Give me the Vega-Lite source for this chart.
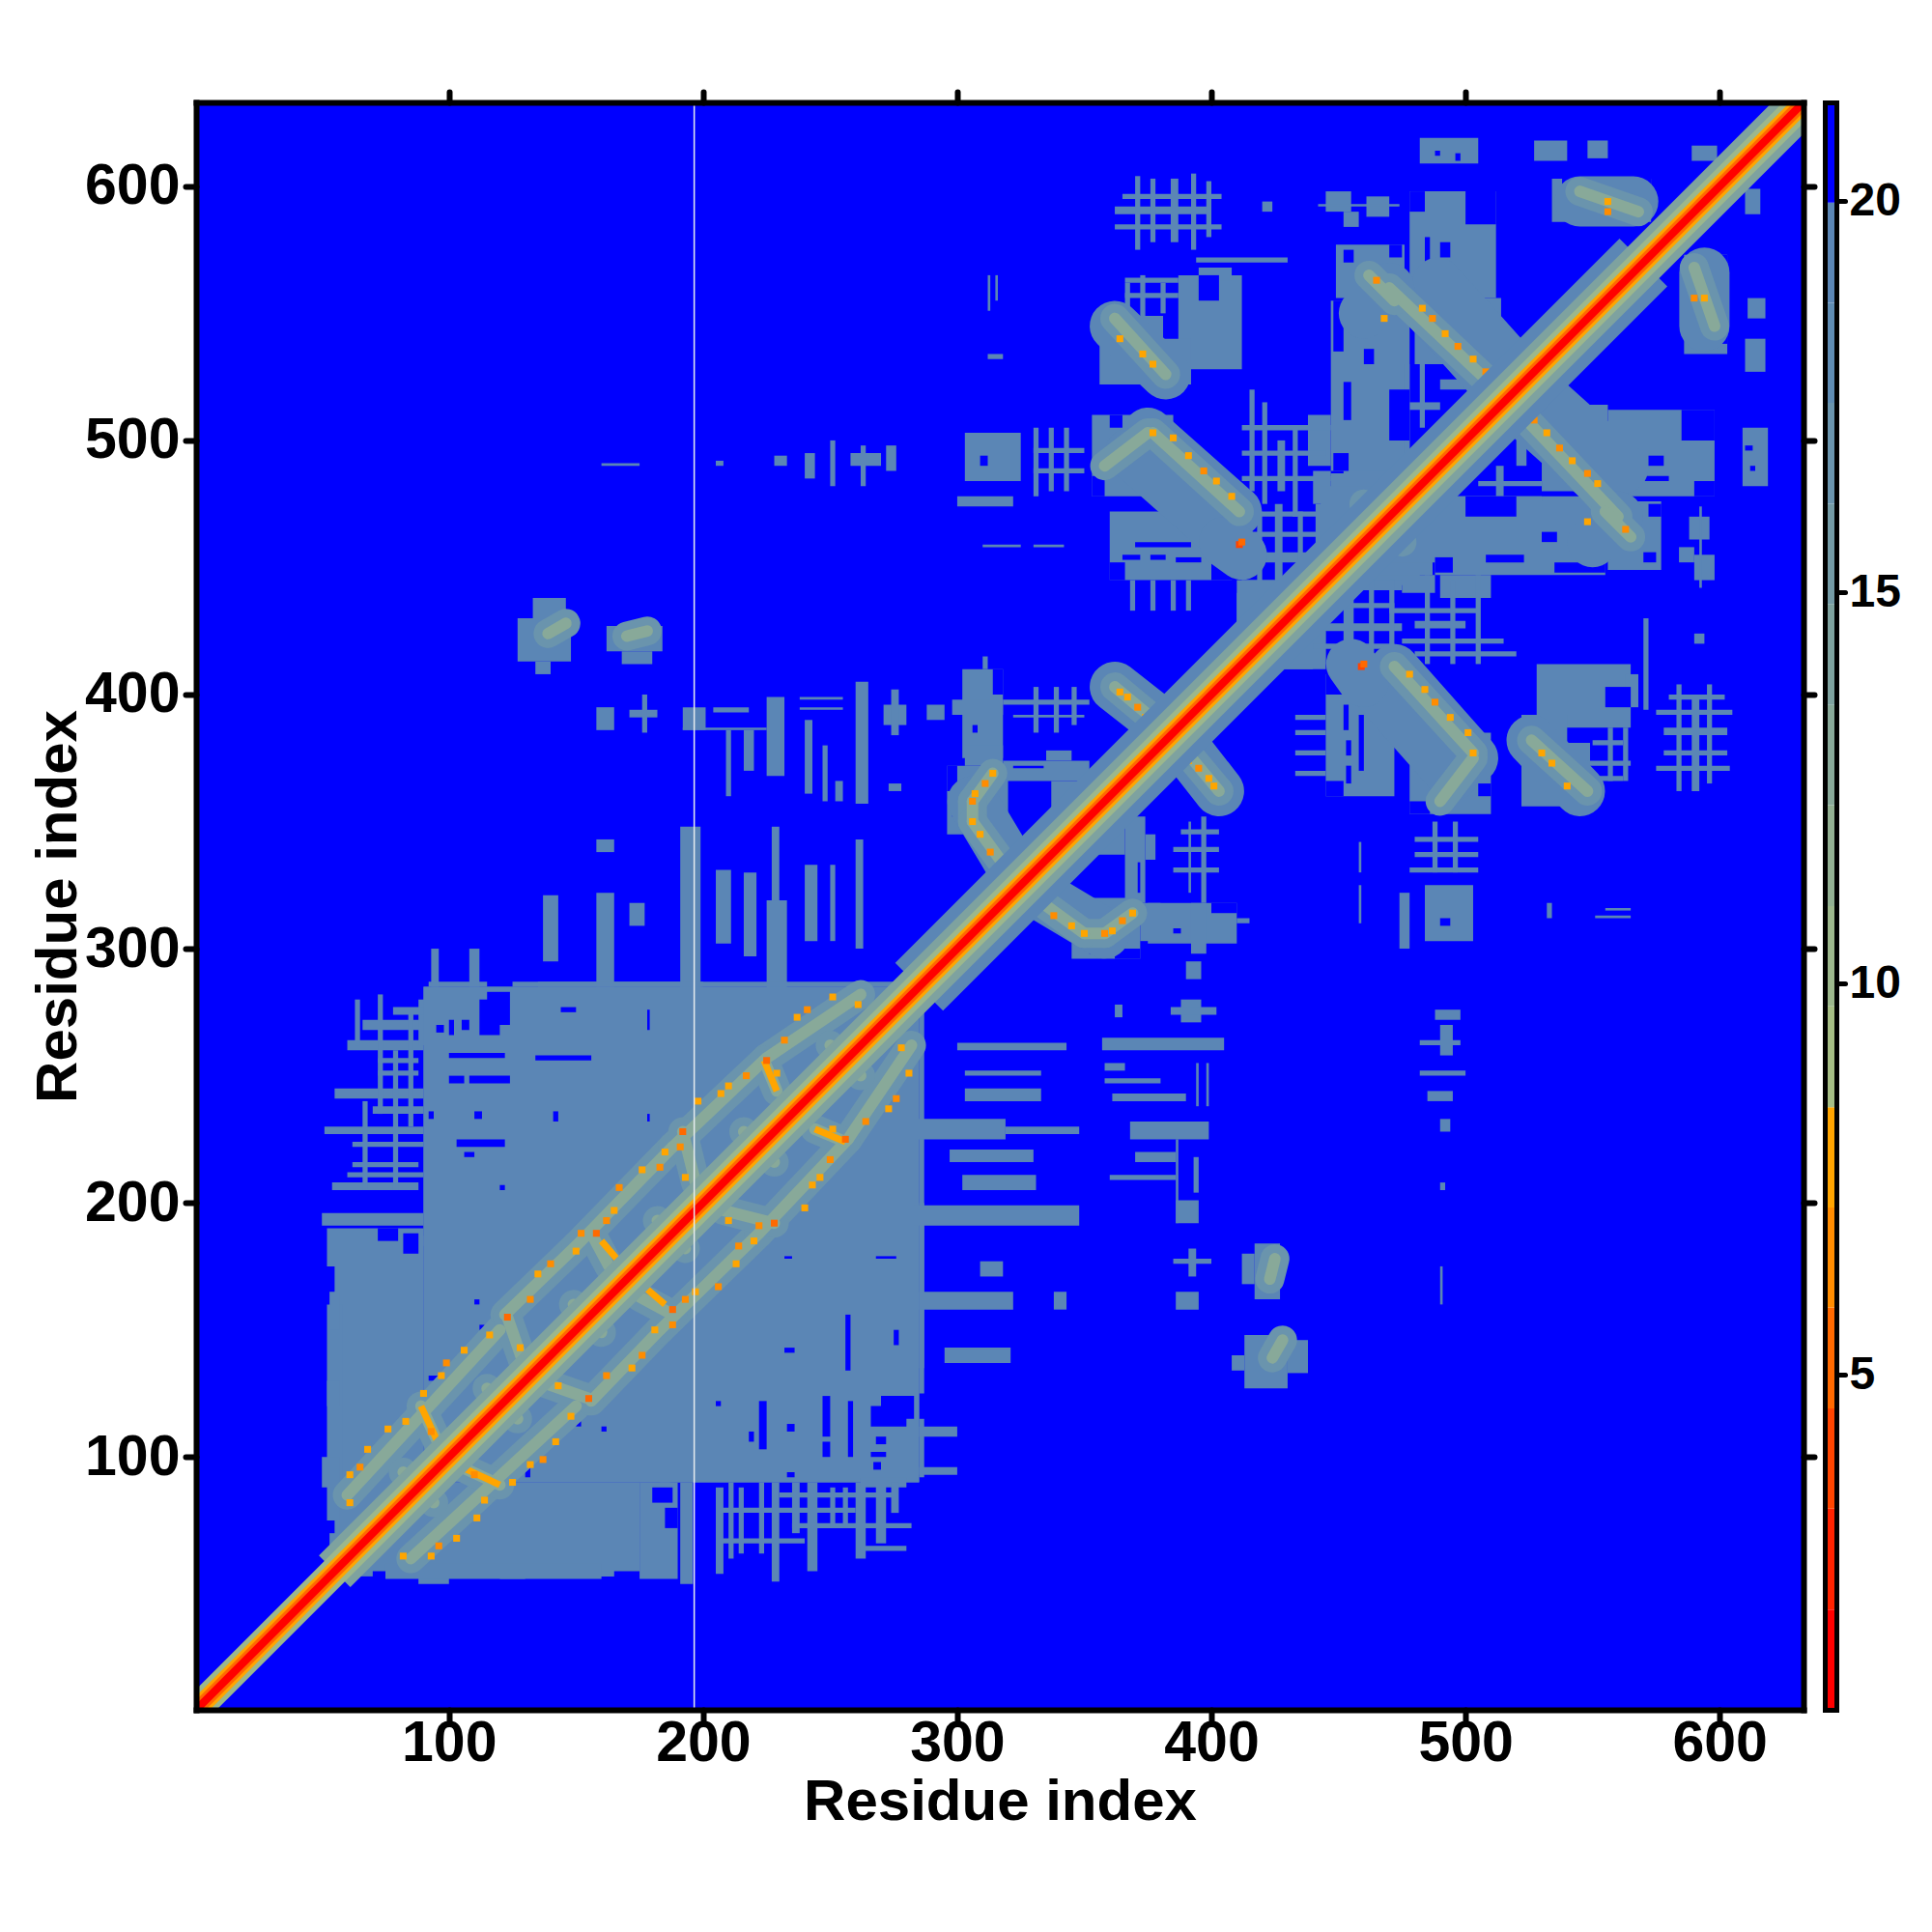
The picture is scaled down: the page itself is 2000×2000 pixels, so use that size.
{"$schema":"https://vega.github.io/schema/vega-lite/v6.json","background":"white","padding":{"left":30,"top":92,"right":0,"bottom":0},"config":{"view":{"stroke":null},"legend":{"disable":true},"font":"Liberation Sans","axis":{"grid":false,"domainColor":"black","domainWidth":6,"domainCap":"square","tickColor":"black","tickWidth":6,"tickCap":"round","tickSize":11,"labelColor":"black","labelFont":"Liberation Sans","labelFontWeight":"bold","labelFontSize":59,"titleFont":"Liberation Sans","titleFontWeight":"bold","titleFontSize":60,"titleColor":"black"}},
"datasets":{
"bg":[{"x":0.5,"x2":633,"y":0.5,"y2":633}],
"steel":[
{"x":90,"x2":285,"y":90,"y2":285},{"x":55,"x2":90,"y":57,"y2":175},{"x":52,"x2":58,"y":75,"y2":160},{"x":60,"x2":70,"y":53,"y2":57},{"x":88,"x2":100,"y":50,"y2":57},{"x":120,"x2":130,"y":52,"y2":57},{"x":150,"x2":165,"y":53,"y2":57},{"x":285,"x2":287,"y":125,"y2":285},{"x":92,"x2":115,"y":285,"y2":287},{"x":135,"x2":200,"y":285,"y2":287},
{"x":60,"x2":90,"y":260,"y2":264},{"x":55,"x2":90,"y":241,"y2":245},{"x":51,"x2":90,"y":227,"y2":230},{"x":54,"x2":88,"y":205,"y2":208},{"x":50,"x2":90,"y":191,"y2":196},{"x":57,"x2":90,"y":183,"y2":187},{"x":72,"x2":74,"y":235,"y2":282},{"x":62,"x2":90,"y":222,"y2":224},{"x":62,"x2":88,"y":214,"y2":216},{"x":72,"x2":88,"y":250,"y2":252},{"x":72,"x2":88,"y":255,"y2":257},{"x":70,"x2":90,"y":235,"y2":238},{"x":66,"x2":90,"y":268,"y2":272},{"x":60,"x2":90,"y":210,"y2":212},{"x":78,"x2":80,"y":205,"y2":260},{"x":84,"x2":86,"y":230,"y2":275},{"x":66,"x2":68,"y":205,"y2":240},{"x":88,"x2":92,"y":262,"y2":280},{"x":63,"x2":65,"y":262,"y2":280},{"x":78,"x2":90,"y":274,"y2":277},{"x":52,"x2":90,"y":175,"y2":190},
{"x":137,"x2":143,"y":295,"y2":321},{"x":158,"x2":165,"y":285,"y2":322},{"x":171,"x2":177,"y":309,"y2":318},{"x":191,"x2":199,"y":283,"y2":348},{"x":205,"x2":211,"y":302,"y2":331},{"x":216,"x2":221,"y":297,"y2":330},{"x":225,"x2":233,"y":283,"y2":319},{"x":227,"x2":230,"y":319,"y2":348},{"x":240,"x2":245,"y":303,"y2":333},{"x":250,"x2":252,"y":303,"y2":333},{"x":260,"x2":263,"y":300,"y2":343},{"x":158,"x2":165,"y":338,"y2":343},{"x":93,"x2":96,"y":285,"y2":300},{"x":108,"x2":112,"y":285,"y2":300},
{"x":158,"x2":165,"y":386,"y2":395},{"x":171,"x2":182,"y":391,"y2":394},{"x":176,"x2":178,"y":385,"y2":400},{"x":192,"x2":201,"y":386,"y2":395},{"x":204,"x2":218,"y":393,"y2":395},{"x":192,"x2":225,"y":386,"y2":387},{"x":225,"x2":232,"y":368,"y2":399},{"x":209,"x2":211,"y":360,"y2":386},{"x":216,"x2":220,"y":370,"y2":386},{"x":238,"x2":255,"y":398,"y2":399},{"x":238,"x2":255,"y":394,"y2":395},{"x":240,"x2":243,"y":361,"y2":390},{"x":252,"x2":255,"y":358,"y2":366},{"x":247,"x2":249,"y":358,"y2":380},{"x":260,"x2":265,"y":357,"y2":405},{"x":271,"x2":280,"y":388,"y2":396},{"x":274,"x2":277,"y":384,"y2":402},{"x":273,"x2":278,"y":362,"y2":365},{"x":288,"x2":295,"y":390,"y2":396},
{"x":302,"x2":318,"y":375,"y2":410},{"x":298,"x2":318,"y":392,"y2":398},{"x":310,"x2":312,"y":410,"y2":415},{"x":318,"x2":352,"y":396,"y2":398},{"x":322,"x2":350,"y":391,"y2":392},{"x":330,"x2":332,"y":385,"y2":403},{"x":338,"x2":340,"y":385,"y2":403},{"x":345,"x2":347,"y":388,"y2":403},
{"x":127,"x2":148,"y":413,"y2":430},{"x":133,"x2":146,"y":430,"y2":438},{"x":134,"x2":140,"y":408,"y2":413},{"x":162,"x2":184,"y":417,"y2":427},{"x":168,"x2":180,"y":412,"y2":417},
{"x":296,"x2":320,"y":345,"y2":372},{"x":303,"x2":318,"y":372,"y2":380},{"x":318,"x2":352,"y":366,"y2":374},{"x":337,"x2":352,"y":345,"y2":366},{"x":335,"x2":345,"y":374,"y2":378},
{"x":410,"x2":445,"y":410,"y2":440},{"x":412,"x2":425,"y":432,"y2":445},
{"x":447,"x2":487,"y":447,"y2":487},{"x":452,"x2":482,"y":443,"y2":491},{"x":447,"x2":478,"y":488,"y2":555},{"x":478,"x2":512,"y":556,"y2":598},{"x":480,"x2":514,"y":530,"y2":556},{"x":470,"x2":478,"y":550,"y2":562},{"x":449,"x2":476,"y":556,"y2":577},
{"x":476,"x2":478,"y":495,"y2":530},{"x":482,"x2":484,"y":505,"y2":530},{"x":490,"x2":500,"y":520,"y2":524},{"x":478,"x2":490,"y":512,"y2":515},
{"x":415,"x2":417,"y":480,"y2":520},{"x":420,"x2":422,"y":475,"y2":515},{"x":426,"x2":429,"y":480,"y2":500},{"x":432,"x2":434,"y":470,"y2":505},{"x":438,"x2":447,"y":490,"y2":510},{"x":440,"x2":447,"y":475,"y2":488},{"x":412,"x2":445,"y":494,"y2":496},{"x":412,"x2":449,"y":452,"y2":456},{"x":418,"x2":420,"y":440,"y2":472},{"x":425,"x2":428,"y":440,"y2":475},{"x":434,"x2":436,"y":445,"y2":472},{"x":441,"x2":445,"y":445,"y2":475},{"x":412,"x2":445,"y":462,"y2":464},{"x":412,"x2":445,"y":470,"y2":472},{"x":412,"x2":447,"y":504,"y2":506},{"x":412,"x2":447,"y":484,"y2":486},
{"x":353,"x2":385,"y":478,"y2":510},{"x":360,"x2":408,"y":445,"y2":472},{"x":368,"x2":370,"y":433,"y2":445},{"x":376,"x2":378,"y":433,"y2":445},{"x":384,"x2":386,"y":433,"y2":445},{"x":390,"x2":392,"y":433,"y2":445},
{"x":387,"x2":412,"y":528,"y2":565},{"x":356,"x2":381,"y":522,"y2":549},{"x":378,"x2":392,"y":522,"y2":540},{"x":366,"x2":368,"y":550,"y2":562},{"x":372,"x2":374,"y":548,"y2":565},{"x":380,"x2":382,"y":550,"y2":562},{"x":366,"x2":387,"y":556,"y2":558},{"x":366,"x2":387,"y":562,"y2":564},{"x":395,"x2":408,"y":563,"y2":568},
{"x":362,"x2":400,"y":589,"y2":592},{"x":362,"x2":404,"y":583,"y2":585},{"x":365,"x2":404,"y":595,"y2":597},{"x":370,"x2":372,"y":575,"y2":604},{"x":376,"x2":378,"y":578,"y2":603},{"x":384,"x2":387,"y":578,"y2":603},{"x":392,"x2":394,"y":575,"y2":605},{"x":398,"x2":400,"y":580,"y2":602},
{"x":445,"x2":455,"y":590,"y2":598},{"x":452,"x2":458,"y":584,"y2":590},{"x":461,"x2":470,"y":588,"y2":596},{"x":442,"x2":474,"y":592,"y2":593},{"x":420,"x2":424,"y":590,"y2":594},{"x":394,"x2":430,"y":570,"y2":572},
{"x":482,"x2":505,"y":609,"y2":619},{"x":527,"x2":540,"y":610,"y2":618},{"x":548,"x2":556,"y":611,"y2":618},{"x":589,"x2":599,"y":610,"y2":616},{"x":534,"x2":573,"y":586,"y2":603},
{"x":303,"x2":325,"y":484,"y2":503},{"x":330,"x2":332,"y":478,"y2":505},{"x":336,"x2":338,"y":480,"y2":505},{"x":342,"x2":344,"y":480,"y2":505},{"x":330,"x2":350,"y":487,"y2":489},{"x":330,"x2":350,"y":495,"y2":497},{"x":300,"x2":322,"y":474,"y2":478},{"x":310,"x2":325,"y":458,"y2":459},{"x":330,"x2":342,"y":458,"y2":459},{"x":312,"x2":313,"y":551,"y2":565},{"x":315,"x2":316,"y":555,"y2":565},{"x":312,"x2":318,"y":532,"y2":534},
{"x":240,"x2":244,"y":485,"y2":495},{"x":250,"x2":252,"y":482,"y2":500},{"x":258,"x2":270,"y":490,"y2":495},{"x":262,"x2":264,"y":482,"y2":498},{"x":272,"x2":276,"y":488,"y2":498},{"x":228,"x2":233,"y":490,"y2":494},{"x":205,"x2":208,"y":490,"y2":492},{"x":160,"x2":175,"y":490,"y2":491}],
"holes":[
{"x":95,"x2":98,"y":267,"y2":270},{"x":100,"x2":102,"y":266,"y2":272},{"x":105,"x2":108,"y":268,"y2":272},{"x":112,"x2":120,"y":266,"y2":280},{"x":115,"x2":124,"y":270,"y2":283},{"x":100,"x2":122,"y":257,"y2":259},{"x":108,"x2":124,"y":247,"y2":250},{"x":100,"x2":106,"y":247,"y2":250},{"x":103,"x2":122,"y":222,"y2":225},{"x":110,"x2":113,"y":233,"y2":236},{"x":106,"x2":110,"y":218,"y2":220},{"x":134,"x2":156,"y":256,"y2":258},{"x":144,"x2":150,"y":275,"y2":277},{"x":178,"x2":179,"y":268,"y2":276},{"x":120,"x2":122,"y":205,"y2":207},{"x":141,"x2":143,"y":232,"y2":236},{"x":178,"x2":179,"y":232,"y2":235},{"x":92,"x2":94,"y":233,"y2":236},{"x":110,"x2":112,"y":160,"y2":162},{"x":72,"x2":80,"y":185,"y2":190},{"x":82,"x2":88,"y":180,"y2":188},{"x":92,"x2":96,"y":130,"y2":132},{"x":112,"x2":114,"y":150,"y2":152},
{"x":340,"x2":343,"y":352,"y2":356},{"x":345,"x2":348,"y":358,"y2":361},{"x":340,"x2":350,"y":348,"y2":349},{"x":322,"x2":334,"y":371,"y2":372},{"x":298,"x2":302,"y":352,"y2":356},{"x":296,"x2":300,"y":362,"y2":372},{"x":349,"x2":352,"y":362,"y2":366},
{"x":396,"x2":410,"y":467,"y2":470},{"x":365,"x2":372,"y":453,"y2":455},{"x":376,"x2":382,"y":453,"y2":455},{"x":386,"x2":396,"y":452,"y2":454},{"x":370,"x2":392,"y":458,"y2":460},{"x":375,"x2":387,"y":478,"y2":484},{"x":360,"x2":366,"y":445,"y2":452},{"x":400,"x2":408,"y":445,"y2":452},
{"x":452,"x2":455,"y":508,"y2":523},{"x":484,"x2":486,"y":570,"y2":580},{"x":490,"x2":494,"y":572,"y2":578},{"x":470,"x2":475,"y":572,"y2":577},{"x":452,"x2":456,"y":570,"y2":575},{"x":500,"x2":512,"y":585,"y2":598},{"x":478,"x2":484,"y":590,"y2":598},{"x":448,"x2":452,"y":535,"y2":555},{"x":460,"x2":464,"y":530,"y2":536},{"x":470,"x2":478,"y":500,"y2":520},{"x":448,"x2":454,"y":488,"y2":495},
{"x":309,"x2":312,"y":490,"y2":494},{"x":395,"x2":403,"y":555,"y2":565},{"x":356,"x2":360,"y":540,"y2":549},{"x":360,"x2":365,"y":505,"y2":510},{"x":353,"x2":358,"y":478,"y2":486},{"x":306,"x2":308,"y":385,"y2":388},{"x":314,"x2":318,"y":400,"y2":410},{"x":538,"x2":545,"y":598,"y2":603},{"x":565,"x2":573,"y":596,"y2":603},{"x":488,"x2":490,"y":612,"y2":614},{"x":496,"x2":498,"y":610,"y2":613}],
"wide":[{"x":306,"y":358,"x2":324,"y2":328},{"x":362,"y":403,"x2":385,"y2":385},{"x":375,"y":503,"x2":410,"y2":472},{"x":368,"y":495,"x2":403,"y2":464},{"x":362,"y":545,"x2":382,"y2":526},{"x":482,"y":555,"x2":508,"y2":526},{"x":489,"y":562,"x2":515,"y2":533},{"x":545,"y":594,"x2":566,"y2":594},{"x":405,"y":460,"x2":412,"y2":455},{"x":460,"y":550,"x2":470,"y2":560}],
"halo":[{"x":60,"y":85,"x2":120,"y2":150},{"x":122,"y":156,"x2":150,"y2":183},{"x":150,"y":183,"x2":188,"y2":222},{"x":188,"y":222,"x2":225,"y2":257},{"x":225,"y":257,"x2":262,"y2":282},{"x":82,"y":94,"x2":88,"y2":88},{"x":115,"y":127,"x2":121,"y2":121},{"x":149,"y":160,"x2":155,"y2":155},{"x":182,"y":193,"x2":188,"y2":188},{"x":216,"y":228,"x2":222,"y2":222},{"x":250,"y":262,"x2":256,"y2":256},{"x":89,"y":120,"x2":96,"y2":105},{"x":123,"y":155,"x2":130,"y2":135},{"x":156,"y":188,"x2":163,"y2":175},{"x":192,"y":228,"x2":197,"y2":208},{"x":224,"y":256,"x2":229,"y2":244},{"x":314,"y":369,"x2":306,"y2":358},{"x":306,"y":358,"x2":306,"y2":350},{"x":306,"y":350,"x2":322,"y2":328},{"x":362,"y":403,"x2":380,"y2":388},{"x":377,"y":503,"x2":411,"y2":472},{"x":358,"y":490,"x2":375,"y2":503},{"x":362,"y":548,"x2":382,"y2":526},{"x":470,"y":560,"x2":508,"y2":524},{"x":545,"y":598,"x2":568,"y2":590},{"x":460,"y":475,"x2":470,"y2":470},{"x":139,"y":424,"x2":146,"y2":428},{"x":170,"y":423,"x2":178,"y2":425},{"x":462,"y":565,"x2":472,"y2":555}],
"arms":[{"x":82,"y":94,"x2":88,"y2":88,"d":6.48},{"x":115,"y":127,"x2":121,"y2":121,"d":6.48},{"x":149,"y":160,"x2":155,"y2":155,"d":6.48},{"x":182,"y":193,"x2":188,"y2":188,"d":6.48},{"x":216,"y":228,"x2":222,"y2":222,"d":6.48},{"x":250,"y":262,"x2":256,"y2":256,"d":6.48},{"x":89,"y":120,"x2":96,"y2":105,"d":7.76},{"x":160,"y":185,"x2":166,"y2":178,"d":7.76},{"x":224,"y":256,"x2":229,"y2":244,"d":7.76},{"x":460,"y":475,"x2":466,"y2":474,"d":6.48},{"x":466,"y":474,"x2":470,"y2":468,"d":6.48},{"x":449,"y":460,"x2":455,"y2":455,"d":6.48},{"x":437,"y":447,"x2":442,"y2":442,"d":6.48},{"x":521,"y":533,"x2":527,"y2":527,"d":6.48},{"x":552,"y":563,"x2":558,"y2":558,"d":6.48},{"x":413,"y":421,"x2":417,"y2":417,"d":6.48}],
"dots":[{"x":61,"y":82,"d":7.76},{"x":61,"y":93,"d":7.76},{"x":65,"y":96,"d":6.48},{"x":68,"y":103,"d":7.76},{"x":76,"y":111,"d":7.76},{"x":83,"y":114,"d":7.76},{"x":90,"y":125,"d":7.76},{"x":93,"y":110,"d":6.48},{"x":97,"y":132,"d":7.76},{"x":99,"y":137,"d":6.48},{"x":106,"y":142,"d":7.76},{"x":116,"y":148,"d":7.76},{"x":123,"y":155,"d":5.2},{"x":128,"y":143,"d":7.76},{"x":130,"y":135,"d":7.76},{"x":132,"y":162,"d":6.48},{"x":135,"y":172,"d":7.76},{"x":140,"y":176,"d":6.48},{"x":150,"y":181,"d":7.76},{"x":152,"y":188,"d":6.48},{"x":158,"y":188,"d":5.2},{"x":162,"y":193,"d":6.48},{"x":165,"y":197,"d":7.76},{"x":167,"y":206,"d":6.48},{"x":176,"y":213,"d":7.76},{"x":183,"y":214,"d":6.48},{"x":185,"y":220,"d":7.76},{"x":191,"y":222,"d":6.48},{"x":192,"y":228,"d":5.2},{"x":193,"y":210,"d":7.76},{"x":197,"y":206,"d":6.48},{"x":198,"y":240,"d":7.76},{"x":207,"y":243,"d":7.76},{"x":210,"y":246,"d":7.76},{"x":217,"y":250,"d":6.48},{"x":225,"y":256,"d":5.2},{"x":229,"y":251,"d":7.76},{"x":232,"y":264,"d":6.48},{"x":237,"y":273,"d":7.76},{"x":241,"y":276,"d":6.48},{"x":251,"y":281,"d":7.76},{"x":261,"y":278,"d":7.76},{"x":265,"y":271,"d":7.76},{"x":314,"y":369,"d":7.76},{"x":311,"y":365,"d":6.48},{"x":307,"y":361,"d":7.76},{"x":306,"y":358,"d":6.48},{"x":306,"y":350,"d":7.76},{"x":309,"y":345,"d":7.76},{"x":313,"y":338,"d":6.48},{"x":320,"y":334,"d":7.76},{"x":322,"y":328,"d":7.76},{"x":364,"y":401,"d":7.76},{"x":367,"y":399,"d":7.76},{"x":371,"y":395,"d":6.48},{"x":374,"y":391,"d":7.76},{"x":377,"y":388,"d":7.76},{"x":377,"y":503,"d":7.76},{"x":385,"y":501,"d":7.76},{"x":391,"y":494,"d":7.76},{"x":397,"y":488,"d":6.48},{"x":402,"y":484,"d":7.76},{"x":408,"y":478,"d":7.76},{"x":411,"y":459,"d":3.92},{"x":412,"y":460,"d":5.2},{"x":364,"y":540,"d":7.76},{"x":373,"y":534,"d":7.76},{"x":377,"y":530,"d":7.76},{"x":483,"y":552,"d":7.76},{"x":487,"y":548,"d":6.48},{"x":492,"y":542,"d":7.76},{"x":497,"y":537,"d":6.48},{"x":503,"y":532,"d":7.76},{"x":508,"y":527,"d":6.48},{"x":556,"y":594,"d":7.76},{"x":556,"y":590,"d":6.48},{"x":465,"y":563,"d":6.48},{"x":468,"y":548,"d":7.76}],
"diag":[{"x":285,"y":285,"x2":570,"y2":570,"d":19.28},{"x":55,"y":55,"x2":633,"y2":633,"d":14.2},{"x":1,"y":1,"x2":633,"y2":633,"d":10.35},{"x":1,"y":1,"x2":633,"y2":633,"d":7.78},{"x":1,"y":1,"x2":633,"y2":633,"d":5.22},{"x":1,"y":1,"x2":633,"y2":633,"d":1.36}],
"gap":[{"x":196.5}],
"bar":[{"lo":0.72,"hi":2,"d":1.36},{"lo":2,"hi":3.29,"d":2.65},{"lo":3.29,"hi":4.57,"d":3.93},{"lo":4.57,"hi":5.86,"d":5.22},{"lo":5.86,"hi":7.14,"d":6.5},{"lo":7.14,"hi":8.42,"d":7.78},{"lo":8.42,"hi":9.71,"d":9.07},{"lo":9.71,"hi":10.99,"d":10.35},{"lo":10.99,"hi":12.28,"d":11.63},{"lo":12.28,"hi":13.56,"d":12.92},{"lo":13.56,"hi":14.85,"d":14.2},{"lo":14.85,"hi":16.13,"d":15.49},{"lo":16.13,"hi":17.42,"d":16.77},{"lo":17.42,"hi":18.7,"d":18.06},{"lo":18.7,"hi":19.98,"d":19.34},{"lo":19.98,"hi":21.26,"d":20.62}],
"barframe":[{"lo":0.72,"hi":21.26,"p":0,"q":1}]
},
"spacing":8,
"hconcat":[
{"width":1664,"height":1664,"resolve":{"axis":{"x":"independent","y":"independent"},"scale":{"color":"shared"}},
"layer":[
{"data":{"name":"bg"},"mark":{"type":"rect","clip":true,"color":"#0000FF"},"encoding":{"x":{"field":"x","type":"quantitative","scale":{"domain":[0.5,633],"nice":false,"zero":false},"axis":{"orient":"bottom","zindex":1,"values":[100,200,300,400,500,600],"title":"Residue index","labelPadding":-6,"titlePadding":2}},"x2":{"field":"x2"},"y":{"field":"y","type":"quantitative","scale":{"domain":[0.5,633],"nice":false,"zero":false},"axis":{"orient":"left","zindex":1,"values":[100,200,300,400,500,600],"title":"Residue index","labelPadding":6,"titlePadding":-4}},"y2":{"field":"y2"}}},
{"data":{"name":"steel"},"mark":{"type":"rect","clip":true,"color":"#5B86B5"},"encoding":{"x":{"field":"x","type":"quantitative","axis":null},"x2":{"field":"x2"},"y":{"field":"y","type":"quantitative","axis":null},"y2":{"field":"y2"}}},
{"data":{"name":"steel"},"mark":{"type":"rect","clip":true,"color":"#5B86B5"},"encoding":{"x":{"field":"y","type":"quantitative","axis":null},"x2":{"field":"y2"},"y":{"field":"x","type":"quantitative","axis":null},"y2":{"field":"x2"}}},
{"data":{"name":"holes"},"mark":{"type":"rect","clip":true,"color":"#0000FF"},"encoding":{"x":{"field":"x","type":"quantitative","axis":null},"x2":{"field":"x2"},"y":{"field":"y","type":"quantitative","axis":null},"y2":{"field":"y2"}}},
{"data":{"name":"holes"},"mark":{"type":"rect","clip":true,"color":"#0000FF"},"encoding":{"x":{"field":"y","type":"quantitative","axis":null},"x2":{"field":"y2"},"y":{"field":"x","type":"quantitative","axis":null},"y2":{"field":"x2"}}},
{"data":{"name":"wide"},"mark":{"type":"rule","clip":true,"strokeWidth":52,"strokeCap":"round","color":"#5B86B5"},"encoding":{"x":{"field":"x","type":"quantitative","axis":null},"x2":{"field":"x2"},"y":{"field":"y","type":"quantitative","axis":null},"y2":{"field":"y2"}}},
{"data":{"name":"wide"},"mark":{"type":"rule","clip":true,"strokeWidth":52,"strokeCap":"round","color":"#5B86B5"},"encoding":{"x":{"field":"y","type":"quantitative","axis":null},"x2":{"field":"y2"},"y":{"field":"x","type":"quantitative","axis":null},"y2":{"field":"x2"}}},
{"data":{"name":"halo"},"mark":{"type":"rule","clip":true,"strokeWidth":30,"strokeCap":"round","color":"#6A94AD"},"encoding":{"x":{"field":"x","type":"quantitative","axis":null},"x2":{"field":"x2"},"y":{"field":"y","type":"quantitative","axis":null},"y2":{"field":"y2"}}},
{"data":{"name":"halo"},"mark":{"type":"rule","clip":true,"strokeWidth":30,"strokeCap":"round","color":"#6A94AD"},"encoding":{"x":{"field":"y","type":"quantitative","axis":null},"x2":{"field":"y2"},"y":{"field":"x","type":"quantitative","axis":null},"y2":{"field":"x2"}}},
{"data":{"name":"halo"},"mark":{"type":"rule","clip":true,"strokeWidth":12,"strokeCap":"round","color":"#88A999"},"encoding":{"x":{"field":"x","type":"quantitative","axis":null},"x2":{"field":"x2"},"y":{"field":"y","type":"quantitative","axis":null},"y2":{"field":"y2"}}},
{"data":{"name":"halo"},"mark":{"type":"rule","clip":true,"strokeWidth":12,"strokeCap":"round","color":"#88A999"},"encoding":{"x":{"field":"y","type":"quantitative","axis":null},"x2":{"field":"y2"},"y":{"field":"x","type":"quantitative","axis":null},"y2":{"field":"x2"}}},
{"data":{"name":"arms"},"mark":{"type":"rule","clip":true,"strokeWidth":7},"encoding":{"x":{"field":"x","type":"quantitative","axis":null},"x2":{"field":"x2"},"y":{"field":"y","type":"quantitative","axis":null},"y2":{"field":"y2"},"color":{"field":"d","type":"quantitative","scale":{"type":"threshold","domain":[2,3.29,4.57,5.86,7.14,8.42,9.71,10.99,12.28,13.56,14.85,16.13,17.42,18.7,19.98],"range":["#FF0000","#FF2300","#FF4500","#FF6900","#FF8C00","#FFA500","#A6BE85","#9CB78C","#92B092","#88A999","#7EA29F","#749BA6","#6A94AD","#5F8CB3","#5B86B5","#0000FF"]}}}},
{"data":{"name":"arms"},"mark":{"type":"rule","clip":true,"strokeWidth":7},"encoding":{"x":{"field":"y","type":"quantitative","axis":null},"x2":{"field":"y2"},"y":{"field":"x","type":"quantitative","axis":null},"y2":{"field":"x2"},"color":{"field":"d","type":"quantitative","scale":{"type":"threshold","domain":[2,3.29,4.57,5.86,7.14,8.42,9.71,10.99,12.28,13.56,14.85,16.13,17.42,18.7,19.98],"range":["#FF0000","#FF2300","#FF4500","#FF6900","#FF8C00","#FFA500","#A6BE85","#9CB78C","#92B092","#88A999","#7EA29F","#749BA6","#6A94AD","#5F8CB3","#5B86B5","#0000FF"]}}}},
{"data":{"name":"dots"},"mark":{"type":"square","clip":true,"size":50,"opacity":1},"encoding":{"x":{"field":"x","type":"quantitative","axis":null},"y":{"field":"y","type":"quantitative","axis":null},"color":{"field":"d","type":"quantitative","scale":{"type":"threshold","domain":[2,3.29,4.57,5.86,7.14,8.42,9.71,10.99,12.28,13.56,14.85,16.13,17.42,18.7,19.98],"range":["#FF0000","#FF2300","#FF4500","#FF6900","#FF8C00","#FFA500","#A6BE85","#9CB78C","#92B092","#88A999","#7EA29F","#749BA6","#6A94AD","#5F8CB3","#5B86B5","#0000FF"]}}}},
{"data":{"name":"dots"},"mark":{"type":"square","clip":true,"size":50,"opacity":1},"encoding":{"x":{"field":"y","type":"quantitative","axis":null},"y":{"field":"x","type":"quantitative","axis":null},"color":{"field":"d","type":"quantitative","scale":{"type":"threshold","domain":[2,3.29,4.57,5.86,7.14,8.42,9.71,10.99,12.28,13.56,14.85,16.13,17.42,18.7,19.98],"range":["#FF0000","#FF2300","#FF4500","#FF6900","#FF8C00","#FFA500","#A6BE85","#9CB78C","#92B092","#88A999","#7EA29F","#749BA6","#6A94AD","#5F8CB3","#5B86B5","#0000FF"]}}}},
{"data":{"name":"diag"},"mark":{"type":"rule","clip":true},"encoding":{"x":{"field":"x","type":"quantitative","axis":null},"x2":{"field":"x2"},"y":{"field":"y","type":"quantitative","axis":null},"y2":{"field":"y2"},"color":{"field":"d","type":"quantitative","scale":{"type":"threshold","domain":[2,3.29,4.57,5.86,7.14,8.42,9.71,10.99,12.28,13.56,14.85,16.13,17.42,18.7,19.98],"range":["#FF0000","#FF2300","#FF4500","#FF6900","#FF8C00","#FFA500","#A6BE85","#9CB78C","#92B092","#88A999","#7EA29F","#749BA6","#6A94AD","#5F8CB3","#5B86B5","#0000FF"]}},"size":{"field":"d","type":"quantitative","scale":{"domain":[1.36,5.22,7.78,10.35,14.2,19.28],"range":[8,14,20,30,46,70],"zero":false,"nice":false}}}},
{"data":{"name":"gap"},"mark":{"type":"rule","color":"#E6ECEF","strokeWidth":1.5},"encoding":{"x":{"field":"x","type":"quantitative","axis":null}}},
{"data":{"name":"bg"},"mark":{"type":"rect","opacity":0},"encoding":{"x":{"field":"x","type":"quantitative","axis":{"orient":"top","zindex":1,"values":[100,200,300,400,500,600],"labels":false,"title":null}},"x2":{"field":"x2"},"y":{"field":"y","type":"quantitative","axis":{"orient":"right","zindex":1,"values":[100,200,300,400,500,600],"labels":false,"title":null}},"y2":{"field":"y2"}}}
]},
{"width":12,"height":1664,"resolve":{"axis":{"x":"independent","y":"independent"}},
"layer":[
{"data":{"name":"bar"},"mark":"rect","encoding":{"y":{"field":"lo","type":"quantitative","scale":{"domain":[0.72,21.26],"nice":false,"zero":false},"axis":{"orient":"right","zindex":1,"values":[5,10,15,20],"title":null,"labelFontSize":48,"tickSize":9,"domainWidth":5,"tickWidth":5,"labelPadding":4}},"y2":{"field":"hi"},"color":{"field":"d","type":"quantitative","scale":{"type":"threshold","domain":[2,3.29,4.57,5.86,7.14,8.42,9.71,10.99,12.28,13.56,14.85,16.13,17.42,18.7,19.98],"range":["#FF0000","#FF2300","#FF4500","#FF6900","#FF8C00","#FFA500","#A6BE85","#9CB78C","#92B092","#88A999","#7EA29F","#749BA6","#6A94AD","#5F8CB3","#5B86B5","#0000FF"]}}}},
{"data":{"name":"barframe"},"mark":{"type":"rect","opacity":0},"encoding":{"x":{"field":"p","type":"quantitative","scale":{"domain":[0,1],"nice":false},"axis":{"orient":"bottom","zindex":1,"values":[],"title":null,"labels":false,"ticks":false,"domainWidth":5}},"x2":{"field":"q"},"y":{"field":"lo","type":"quantitative","axis":{"orient":"left","zindex":1,"values":[],"title":null,"labels":false,"ticks":false,"domainWidth":5}},"y2":{"field":"hi"}}},
{"data":{"name":"barframe"},"mark":{"type":"rect","opacity":0},"encoding":{"x":{"field":"p","type":"quantitative","axis":{"orient":"top","zindex":1,"values":[],"title":null,"labels":false,"ticks":false,"domainWidth":5}},"x2":{"field":"q"},"y":{"field":"lo","type":"quantitative","axis":null},"y2":{"field":"hi"}}}
]}
]}
